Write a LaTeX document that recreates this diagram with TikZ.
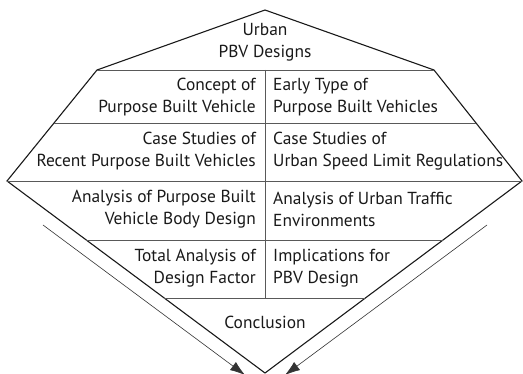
\documentclass[tikz,border=0pt]{standalone}
\usepackage{fontspec}
\setmainfont{PT Sans}
\usetikzlibrary{calc,arrows.meta}
\begin{document}
\begin{tikzpicture}[x=1pt,y=-1pt,
  outline/.style={line width=1.1pt,line join=miter,draw=black!90},
  divider/.style={line width=0.7pt,draw=black!65},
  flow/.style={line width=0.6pt,draw=black!80,-{Latex[length=15pt,width=10pt]}},
  txt/.style={inner sep=0pt,text=black!90,font=\fontsize{17.4}{22}\selectfont},
  lefttext/.style={txt,anchor=east,align=right},
  righttext/.style={txt,anchor=west,align=left},
  midtext/.style={txt,align=center}]
\useasboundingbox (0,0) rectangle (523,374);

% corners of the outline
\coordinate (top) at (265,10);
\coordinate (ul)  at (97,70);
\coordinate (ur)  at (434,70);
\coordinate (lft) at (7,181);
\coordinate (rgt) at (522,181);
\coordinate (bot) at (265,373);

% outer shape
\draw[outline] (top) -- (ur) -- (rgt) -- (bot) -- (lft) -- (ul) -- cycle;

% horizontal dividers
\draw[divider] (ul) -- (ur);
\draw[divider] ($(ul)!0.4775!(lft)$) -- ($(ur)!0.4775!(rgt)$);
\draw[divider] (lft) -- (rgt);
\draw[divider] ($(lft)!0.3073!(bot)$) -- ($(rgt)!0.3073!(bot)$);
\draw[divider] ($(lft)!0.6094!(bot)$) -- ($(rgt)!0.6094!(bot)$);

% central column divider
\coordinate (ctop) at (265,70);
\coordinate (cbot) at (265,298);
\draw[divider] (ctop) -- (cbot);

% side arrows
\coordinate (la) at (43,225);
\coordinate (lb) at (245,375);
\coordinate (ra) at (487,225);
\coordinate (rb) at (285,375);
\draw[flow] (la) -- (lb);
\draw[flow] (ra) -- (rb);

% labels
\node[midtext] (title) at (265,42) {Urban\\PBV Designs};
\node[lefttext] (l1) at (256,97) {Concept of\\Purpose Built Vehicle};
\node[righttext] (r1) at (273,97) {Early Type of\\Purpose Built Vehicles};
\node[lefttext] (l2) at (256,151) {Case Studies of\\Recent Purpose Built Vehicles};
\node[righttext] (r2) at (273,151) {Case Studies of\\Urban Speed Limit Regulations};
\node[lefttext] (l3) at (256,209) {Analysis of Purpose Built\\Vehicle Body Design};
\node[righttext] (r3) at (273,209) {Analysis of Urban Traffic\\Environments};
\node[lefttext] (l4) at (256,268) {Total Analysis of\\Design Factor};
\node[righttext] (r4) at (273,268) {Implications for\\PBV Design};
\node[midtext] (concl) at (265,322) {Conclusion};
\end{tikzpicture}
\end{document}
